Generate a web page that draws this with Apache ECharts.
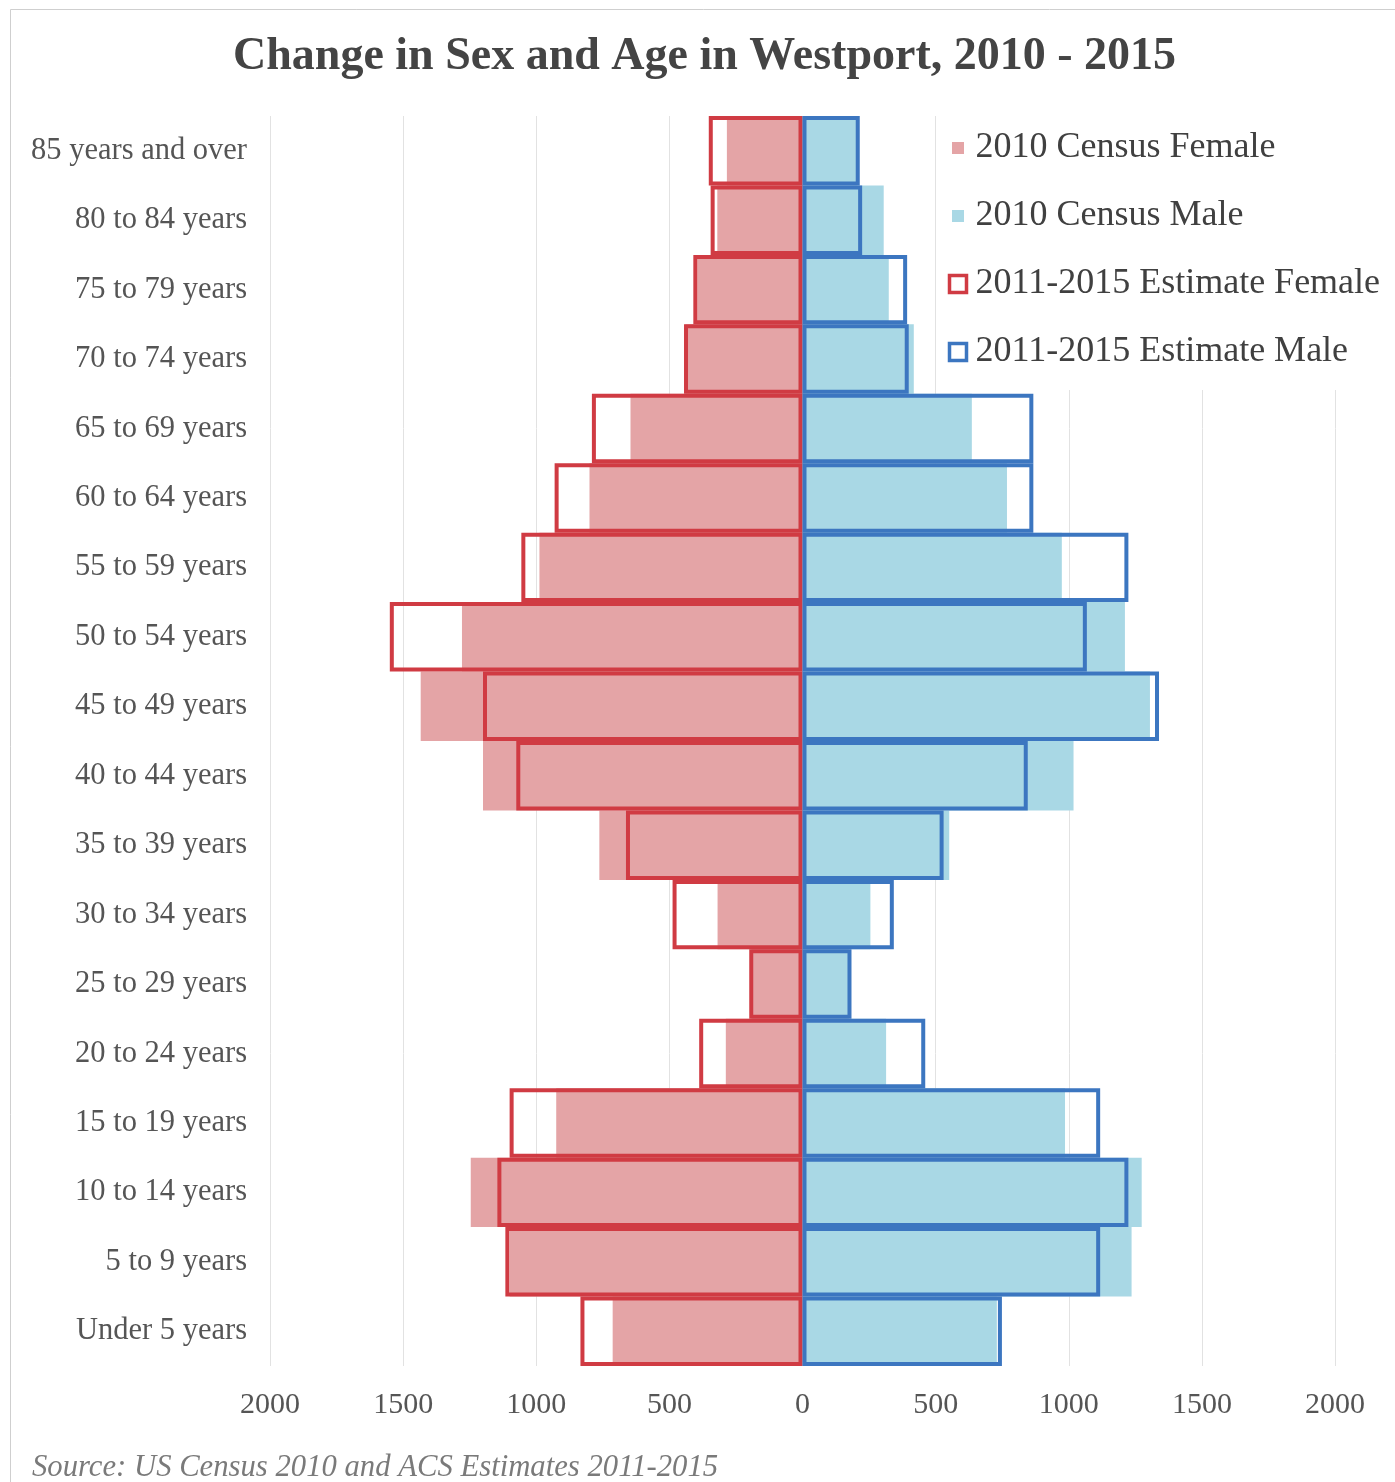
<!DOCTYPE html>
<html>
<head>
<meta charset="utf-8">
<script src="https://cdn.jsdelivr.net/npm/echarts@6/dist/echarts.min.js"></script>
<style>
  html, body { margin: 0; padding: 0; background: #fff; }
  #chart { width: 1395px; height: 1482px; }
</style>
</head>
<body>
<div id="chart"></div>
<script>
// Age groups, bottom to top
const categories = ['Under 5 years', '5 to 9 years', '10 to 14 years', '15 to 19 years',
  '20 to 24 years', '25 to 29 years', '30 to 34 years', '35 to 39 years', '40 to 44 years',
  '45 to 49 years', '50 to 54 years', '55 to 59 years', '60 to 64 years', '65 to 69 years',
  '70 to 74 years', '75 to 79 years', '80 to 84 years', '85 years and over'];

const census2010Female = [713, 1100, 1246, 925, 288, 192, 319, 763, 1200, 1434, 1279, 988, 800, 646, 440, 395, 320, 284];
const census2010Male   = [730, 1236, 1274, 986, 314, 174, 255, 551, 1018, 1305, 1211, 974, 768, 636, 418, 324, 305, 205];
const estimateFemale   = [834, 1116, 1146, 1100, 388, 200, 488, 663, 1075, 1200, 1550, 1056, 931, 791, 445, 410, 345, 352];
const estimateMale     = [749, 1118, 1224, 1118, 461, 184, 343, 530, 846, 1339, 1068, 1224, 867, 867, 399, 393, 224, 215];

const xTicks = { min: -2000, max: 2000, interval: 500 };

const seriesNames = ['2010 Census Female', '2010 Census Male', '2011-2015 Estimate Female', '2011-2015 Estimate Male'];
const titleText = 'Change in Sex and Age in Westport, 2010 - 2015';
const sourceText = 'Source: US Census 2010 and ACS Estimates 2011-2015';

const FONT = "'Liberation Serif', 'Times New Roman', serif";
const PINK = '#E4A4A6', LIGHTBLUE = '#A9D8E5', RED = '#D03B43', BLUE = '#3C76C0';

const chart = echarts.init(document.getElementById('chart'), null, { renderer: 'canvas' });

const neg = arr => arr.map(v => -v);

chart.setOption({
  backgroundColor: '#fff',
  animation: false,
  title: {
    text: titleText,
    left: 228,
    top: 29,
    textStyle: { fontFamily: FONT, fontSize: 46, fontWeight: 'bold', color: '#444' }
  },
  legend: {
    orient: 'vertical',
    left: 937,
    top: 110,
    padding: [20, 40, 20, 10],
    backgroundColor: '#fff',
    itemWidth: 17,
    itemHeight: 17,
    itemGap: 32,
    selectedMode: false,
    z: 10,
    textStyle: { fontFamily: FONT, fontSize: 36, color: '#404040', lineHeight: 36, padding: [0, 0, 0, 4] },
    data: [
      { name: seriesNames[0], icon: 'rect', itemStyle: { color: PINK, borderColor: '#fff', borderWidth: 5 } },
      { name: seriesNames[1], icon: 'rect', itemStyle: { color: LIGHTBLUE, borderColor: '#fff', borderWidth: 5 } },
      { name: seriesNames[2], icon: 'rect', itemStyle: { color: '#fff', borderColor: RED, borderWidth: 3.5 } },
      { name: seriesNames[3], icon: 'rect', itemStyle: { color: '#fff', borderColor: BLUE, borderWidth: 3.5 } }
    ]
  },
  grid: { left: 270, right: 60, top: 116, bottom: 116, containLabel: false },
  xAxis: {
    type: 'value',
    min: xTicks.min,
    max: xTicks.max,
    interval: xTicks.interval,
    axisLine: { show: false },
    axisTick: { show: false },
    splitLine: { show: true, lineStyle: { color: '#e2e2e2', width: 1 } },
    axisLabel: {
      fontFamily: FONT, fontSize: 30, color: '#555', margin: 24,
      formatter: v => String(Math.abs(v))
    }
  },
  yAxis: {
    type: 'category',
    data: categories,
    axisLine: { show: false },
    axisTick: { show: false },
    splitLine: { show: false },
    axisLabel: { fontFamily: FONT, fontSize: 30.5, color: '#555', margin: 23 }
  },
  series: [
    {
      name: seriesNames[0], type: 'bar', data: neg(census2010Female),
      barWidth: '100%', barGap: '-100%', barCategoryGap: 0,
      itemStyle: { color: PINK }, z: 2
    },
    {
      name: seriesNames[1], type: 'bar', data: census2010Male,
      barWidth: '100%', barGap: '-100%',
      itemStyle: { color: LIGHTBLUE }, z: 2
    },
    {
      name: seriesNames[2], type: 'bar', data: neg(estimateFemale),
      barWidth: '100%', barGap: '-100%',
      itemStyle: { color: 'rgba(0,0,0,0)', borderColor: RED, borderWidth: 4 }, z: 3
    },
    {
      name: seriesNames[3], type: 'bar', data: estimateMale,
      barWidth: '100%', barGap: '-100%',
      itemStyle: { color: 'rgba(0,0,0,0)', borderColor: BLUE, borderWidth: 4 }, z: 3
    }
  ],
  graphic: [
    {
      type: 'rect', left: 8, top: 7, z: -10, silent: true,
      shape: { width: 1420, height: 1500 },
      style: { fill: 'none', stroke: '#cfcfcf', lineWidth: 1 }
    },
    {
      type: 'text', left: 32, top: 1452, silent: true,
      style: { text: sourceText, fontFamily: FONT, fontStyle: 'italic', fontSize: 30.7, fill: '#7a7a7a' }
    }
  ]
});
</script>
</body>
</html>
